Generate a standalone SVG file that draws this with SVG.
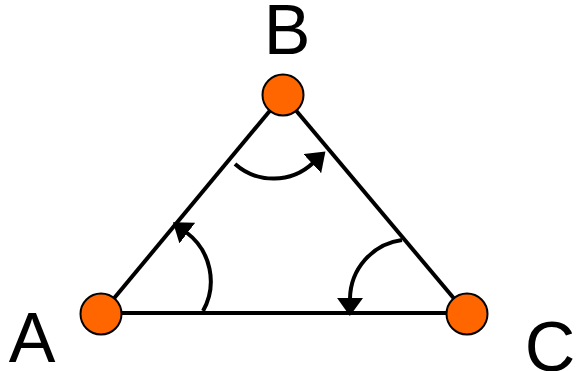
<svg xmlns="http://www.w3.org/2000/svg" width="578" height="371" viewBox="0 0 578 371">
  <style>
    .edge { stroke: #000; stroke-width: 4; fill: none; }
    .turn { stroke: #000; stroke-width: 4; fill: none; marker-end: url(#arrow); }
    .node { fill: #FF6600; stroke: #000; stroke-width: 2; }
    .label { font-family: "Liberation Sans", Arial, sans-serif; font-size: 70px; fill: #000; text-anchor: middle; }
  </style>
  <defs>
    <marker id="arrow" markerUnits="userSpaceOnUse" viewBox="0 0 18 26" refX="1" refY="13" markerWidth="18" markerHeight="26" orient="auto">
      <path d="M0,0 L18,13 L0,26 z" fill="#000"/>
    </marker>
  </defs>
  <rect width="578" height="371" fill="#fff"/>
  <g id="connectors">
    <line class="edge" x1="101" y1="314" x2="283" y2="95"/>
    <line class="edge" x1="283" y1="95" x2="467" y2="314"/>
    <line class="edge" x1="101" y1="313" x2="467" y2="313"/>
    <path class="turn" d="M203,311 A61,61 0 0 0 186.5,232.5"/>
    <path class="turn" d="M235,164 A58,58 0 0 0 313,163"/>
    <path class="turn" d="M402,240 A60,60 0 0 0 350,299"/>
  </g>
  <g id="A">
    <circle class="node" cx="101" cy="314" r="20.5"/>
    <text class="label" x="32" y="362">A</text>
  </g>
  <g id="B">
    <circle class="node" cx="283" cy="95" r="20.5"/>
    <text class="label" x="287" y="54">B</text>
  </g>
  <g id="C">
    <circle class="node" cx="467" cy="314" r="20.5"/>
    <text class="label" x="550" y="371">C</text>
  </g>
</svg>
